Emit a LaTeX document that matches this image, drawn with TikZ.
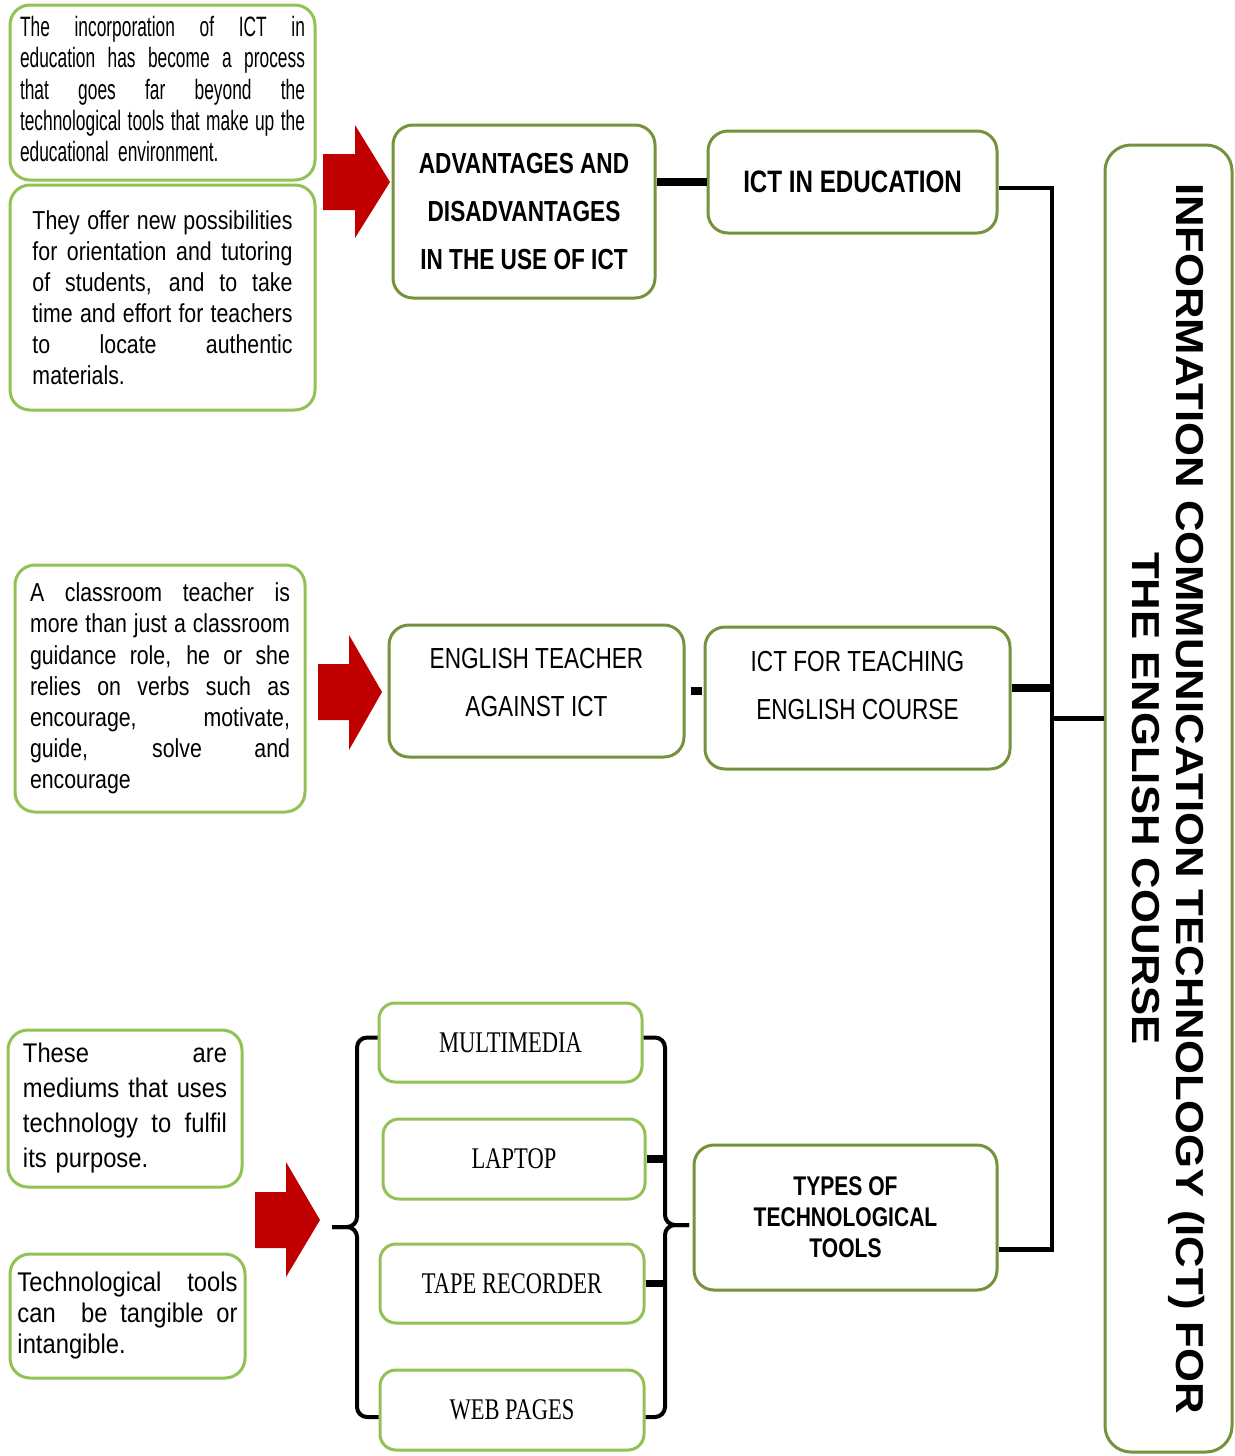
\documentclass[tikz,border=0pt]{standalone}
\usepackage{fontspec}
\setmainfont{Liberation Sans}
\newfontfamily\slimfont[FakeStretch=0.62]{Liberation Sans}
\newfontfamily\narrowfont[FakeStretch=0.82]{Liberation Sans}
\newfontfamily\midfont[FakeStretch=0.88]{Liberation Sans}
\newfontfamily\headfont[FakeStretch=0.78]{Liberation Sans}
\newfontfamily\widefont[FakeStretch=1.12]{Liberation Sans}
\newfontfamily\serifnarrow[FakeStretch=0.75]{Liberation Serif}
\usetikzlibrary{calc}
\definecolor{leafgreen}{RGB}{146,194,86}
\definecolor{olivegreen}{RGB}{118,146,60}
\definecolor{arrowred}{RGB}{192,0,0}
\newcommand{\jline}[1]{{\spaceskip=0pt\xspaceskip=0pt\makebox[\hsize][s]{#1}}}
\tikzset{every picture/.style={line width=0.75pt},
  notebox/.style={draw=leafgreen, line width=1.5pt, rounded corners=10pt, inner sep=0pt, align=left},
  topicbox/.style={draw=olivegreen, line width=1.5pt, rounded corners=10pt, inner sep=2pt, align=center, font=\headfont\fontsize{14.5}{24}\selectfont},
  boldtopic/.style={topicbox, font=\headfont\bfseries\fontsize{14.5}{24}\selectfont},
  toolbox/.style={draw=leafgreen, line width=1.5pt, rounded corners=8pt, inner sep=0pt, font=\serifnarrow\fontsize{15}{18}\selectfont},
  busline/.style={line width=2.3pt},
  stubline/.style={line width=3.6pt},
  braceline/.style={line width=2pt, rounded corners=5pt}}

\begin{document}
\begin{tikzpicture}[x=0.5pt,y=0.5pt,yscale=-1,xscale=1]
\useasboundingbox (0,0) rectangle (1235,1456);
\node[notebox, minimum width=152.5pt, minimum height=87.5pt, text width=142.5pt, font=\slimfont\fontsize{14}{15.6}\selectfont] (incorporation) at (162.5,92.5) {\jline{The incorporation of ICT in}\\\jline{education has become a process}\\\jline{that goes far beyond the}\\\jline{technological tools that make up the}\\educational environment.\\[-12pt]\mbox{}};
\node[notebox, minimum width=152.5pt, minimum height=112.5pt, text width=130pt, font=\narrowfont\fontsize{13}{15.5}\selectfont] (possibilities) at (162.5,297.5) {\jline{They offer new possibilities}\\\jline{for orientation and tutoring}\\\jline{of students, and to take}\\\jline{time and effort for teachers}\\\jline{to locate authentic}\\materials.};
\node[notebox, minimum width=145pt, minimum height=123.5pt, text width=130pt, font=\narrowfont\fontsize{13}{15.6}\selectfont] (classroom) at (160,688.5) {\jline{A classroom teacher is}\\\jline{more than just a classroom}\\\jline{guidance role, he or she}\\\jline{relies on verbs such as}\\\jline{encourage, motivate,}\\\jline{guide, solve and}\\encourage};
\node[notebox, minimum width=117pt, minimum height=78.5pt, text width=102pt, font=\midfont\fontsize{13.5}{17.5}\selectfont] (mediums) at (125,1108.5) {\jline{These are}\\\jline{mediums that uses}\\\jline{technology to fulfil}\\its purpose.};
\node[notebox, minimum width=117.5pt, minimum height=62pt, text width=110pt, font=\midfont\fontsize{13.5}{15.5}\selectfont] (tangible) at (127.5,1316) {\jline{Technological tools}\\\jline{can ~be tangible or}\\intangible.};
\node[boldtopic, minimum width=131pt, minimum height=86.5pt] (proscons) at (524,211.5) {ADVANTAGES AND\\DISADVANTAGES\\IN THE USE OF ICT};
\node[boldtopic, minimum width=144.5pt, minimum height=51pt, font=\headfont\bfseries\fontsize{15.5}{18}\selectfont] (icteducation) at (852.5,182) {ICT IN EDUCATION};
\node[topicbox, minimum width=147.5pt, minimum height=66pt] (teacher) at (536.5,691) {ENGLISH TEACHER\\AGAINST ICT\\[-15pt]\mbox{}};
\node[topicbox, minimum width=152.5pt, minimum height=71pt] (ictteaching) at (857.5,698) {ICT FOR TEACHING\\ENGLISH COURSE\\[-11pt]\mbox{}};
\node[boldtopic, minimum width=151.5pt, minimum height=72.5pt, font=\headfont\bfseries\fontsize{13.5}{15.5}\selectfont] (tooltypes) at (845.5,1217.5) {TYPES OF\\TECHNOLOGICAL\\TOOLS};
\node[toolbox, minimum width=131.5pt, minimum height=39.5pt] (multimedia) at (510.5,1042.5) {MULTIMEDIA};
\node[toolbox, minimum width=131pt, minimum height=40pt] (laptop) at (514,1159) {LAPTOP};
\node[toolbox, minimum width=132pt, minimum height=39.5pt] (tape) at (512,1283.5) {TAPE RECORDER};
\node[toolbox, minimum width=132pt, minimum height=40pt] (webpages) at (512,1410) {WEB PAGES};
\node[draw=olivegreen, line width=1.5pt, rounded corners=13pt, rotate=-90, minimum width=653.5pt, minimum height=63.5pt, align=center, font=\widefont\bfseries\fontsize{19.5}{22}\selectfont] (ictcourse) at (1168.5,798.5) {INFORMATION COMMUNICATION TECHNOLOGY (ICT) FOR\\THE ENGLISH COURSE};
\fill[arrowred] (323,154) -- (355,154) -- (355,125) -- (390,182) -- (355,238) -- (355,210) -- (323,210) -- cycle;
\fill[arrowred] (318,664) -- (349,664) -- (349,635) -- (382,692) -- (349,750) -- (349,720) -- (318,720) -- cycle;
\fill[arrowred] (255,1192) -- (286,1192) -- (286,1162) -- (320,1220) -- (286,1277) -- (286,1248) -- (255,1248) -- cycle;
\coordinate (busx) at (1052,700);
\coordinate (typesout) at ($(tooltypes.east)+(0,32)$);
\coordinate (mainin) at ($(ictcourse.south)+(0,-80)$);
\coordinate (teachingout) at ($(ictteaching.east)+(0,-10)$);
\coordinate (educationout) at ($(icteducation.east)+(0,6)$);
\draw[busline] (educationout) -| (busx) |- (typesout);
\draw[busline] (mainin) -- (mainin -| busx);
\draw[stubline] (teachingout) -- (teachingout -| busx);
\draw[stubline] (icteducation.west) -- (icteducation.west -| proscons.east);
\draw[stubline, shorten <=2.5pt, shorten >=1pt] (teacher.east) -- (teacher.east -| ictteaching.west);
\coordinate (lbrace) at (357,1227);
\coordinate (ltip) at (332,1227);
\coordinate (rbrace) at (665,1225);
\coordinate (rtip) at (689,1225);
\draw[braceline] ($(multimedia.west)+(0,-5)$) -| (lbrace) -- (ltip);
\draw[braceline] ($(webpages.west)+(0,7)$) -| (lbrace) -- (ltip);
\draw[braceline] ($(multimedia.east)+(0,-5)$) -| (rbrace) -- (rtip);
\draw[braceline] ($(webpages.east)+(0,7)$) -| (rbrace) -- (rtip);
\draw[stubline] (laptop.east) -- (laptop.east -| rbrace);
\draw[stubline] (tape.east) -- (tape.east -| rbrace);
\end{tikzpicture}
\end{document}
